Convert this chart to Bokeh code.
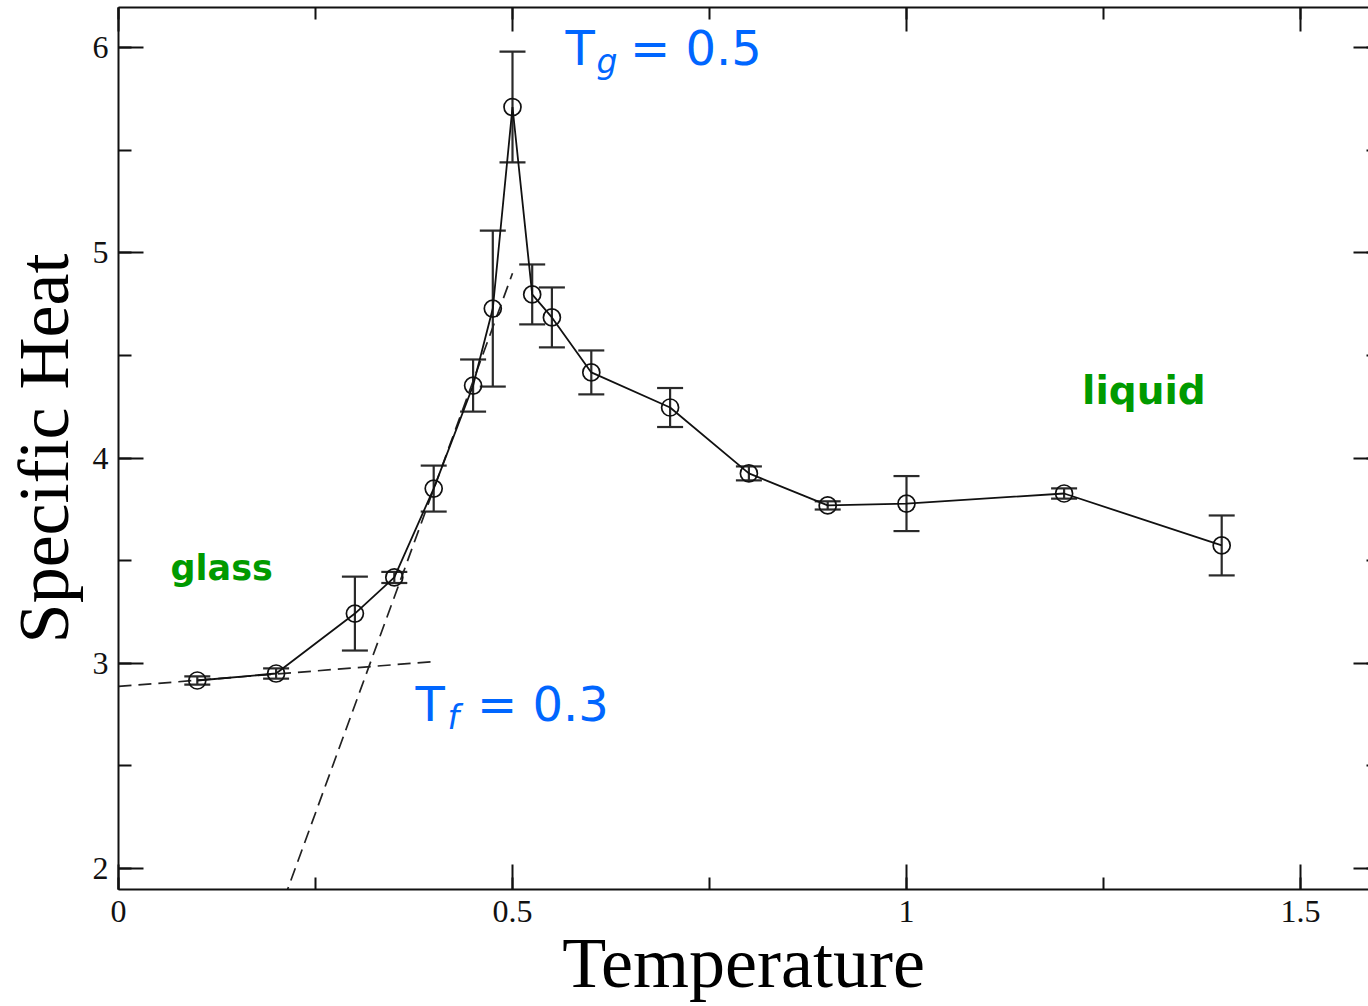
from bokeh.plotting import figure
from bokeh.models import (ColumnDataSource, Whisker, TeeHead, Label, Range1d,
                          LinearAxis, SingleIntervalTicker)
from bokeh.embed import file_html
from bokeh.resources import INLINE

# Specific heat vs temperature with error estimates
temperature = [0.1, 0.2, 0.3, 0.35, 0.4, 0.45, 0.475, 0.5, 0.525, 0.55,
               0.6, 0.7, 0.8, 0.9, 1.0, 1.2, 1.4]
specific_heat = [2.916, 2.950, 3.242, 3.418, 3.851, 4.353, 4.728, 5.710, 4.797,
                 4.685, 4.417, 4.246, 3.925, 3.769, 3.778, 3.827, 3.574]
error = [0.02, 0.025, 0.18, 0.027, 0.112, 0.127, 0.38, 0.27, 0.146, 0.146,
         0.107, 0.095, 0.034, 0.02, 0.134, 0.025, 0.146]

# Linear fits in the glass regime and across the transition
glass_fit_t = [0.0, 0.4]
glass_fit_c = [2.887, 3.008]
transition_fit_t = [0.21, 0.5]
transition_fit_c = [1.85, 4.90]

x_ticks_interval = 0.5
y_ticks_interval = 1

SERIF = "Liberation Serif"
SANS = "DejaVu Sans"
BLUE = "#0066ff"
GREEN = "#009a00"

src = ColumnDataSource(dict(
    t=temperature,
    c=specific_heat,
    upper=[c + e for c, e in zip(specific_heat, error)],
    lower=[c - e for c, e in zip(specific_heat, error)],
))

p = figure(width=1368, height=1006,
           x_range=Range1d(0, 1.5863), y_range=Range1d(1.8977, 6.1949),
           output_backend="svg", toolbar_location=None,
           x_axis_label="Temperature", y_axis_label="Specific Heat",
           min_border_left=118, min_border_right=0,
           min_border_top=7, min_border_bottom=117)

p.background_fill_color = "white"
p.border_fill_color = "white"
p.outline_line_color = None
p.xgrid.visible = False
p.ygrid.visible = False

xt = SingleIntervalTicker(interval=x_ticks_interval, num_minor_ticks=2)
yt = SingleIntervalTicker(interval=y_ticks_interval, num_minor_ticks=2)


def style_axis(ax, major_in, minor_in, line=True, labels=True):
    ax.major_tick_in = major_in
    ax.major_tick_out = 0
    ax.minor_tick_in = minor_in
    ax.minor_tick_out = 0
    ax.major_tick_line_color = "#111111"
    ax.minor_tick_line_color = "#111111"
    ax.major_tick_line_width = 2
    ax.minor_tick_line_width = 2
    if line:
        ax.axis_line_color = "#111111"
        ax.axis_line_width = 2
    else:
        ax.axis_line_color = None
    if labels:
        ax.major_label_text_font = SERIF
        ax.major_label_text_font_size = "32px"
        ax.major_label_text_color = "#111111"
        ax.axis_label_text_font = SERIF
        ax.axis_label_text_font_size = "72px"
        ax.axis_label_text_font_style = "normal"
        ax.axis_label_text_color = "black"
    else:
        ax.major_label_text_color = None
        ax.major_label_text_font_size = "1px"
        ax.major_label_standoff = 0


p.xaxis.ticker = xt
p.yaxis.ticker = yt
style_axis(p.xaxis[0], 25, 12)
style_axis(p.yaxis[0], 25, 13)
p.xaxis.major_label_standoff = 11
p.xaxis.axis_label_standoff = -2
p.yaxis.major_label_standoff = 10
p.yaxis.axis_label_standoff = 6

# Tick marks along the top and right edges of the frame
top_axis = LinearAxis(ticker=xt)
style_axis(top_axis, 24, 12, line=True, labels=False)
p.add_layout(top_axis, "above")

right_axis = LinearAxis(ticker=yt)
style_axis(right_axis, 15, 2, line=False, labels=False)
p.add_layout(right_axis, "right")

# Fit lines
p.line(glass_fit_t, glass_fit_c, line_color="#222222", line_width=1.7,
       line_dash="13 7")
p.line(transition_fit_t, transition_fit_c, line_color="#222222", line_width=1.7,
       line_dash="13 7")

# Error bars
head_kw = dict(size=26, line_color="#2a2a2a", line_width=2.2)
p.add_layout(Whisker(source=src, base="t", upper="upper", lower="lower",
                     dimension="height", line_color="#2a2a2a", line_width=2.2,
                     upper_head=TeeHead(**head_kw),
                     lower_head=TeeHead(**head_kw)))

# Data
p.line("t", "c", source=src, line_color="#111111", line_width=1.8)
p.scatter("t", "c", source=src, marker="circle", size=17, fill_color=None,
          line_color="#111111", line_width=1.7)

# Annotations
def add_label(x, y, text, size, color, style="normal", font=SANS):
    p.add_layout(Label(x=x, y=y, text=text, text_font=font,
                       text_font_size=size, text_color=color,
                       text_font_style=style, text_align="left",
                       text_baseline="alphabetic"))


add_label(0.5673, 5.997, "T", "48px", BLUE)
add_label(0.6066, 5.934, "g", "33px", BLUE, "italic")
add_label(0.649, 5.997, "= 0.5", "48px", BLUE)

add_label(0.3769, 2.801, "T", "48px", BLUE)
add_label(0.4175, 2.738, "f", "33px", BLUE, "italic")
add_label(0.455, 2.801, "= 0.3", "48px", BLUE)

add_label(0.066, 3.463, "glass", "35px", GREEN, "bold")
add_label(1.2228, 4.331, "liquid", "39px", GREEN, "bold")

open("out.html", "w").write(file_html(p, INLINE))
